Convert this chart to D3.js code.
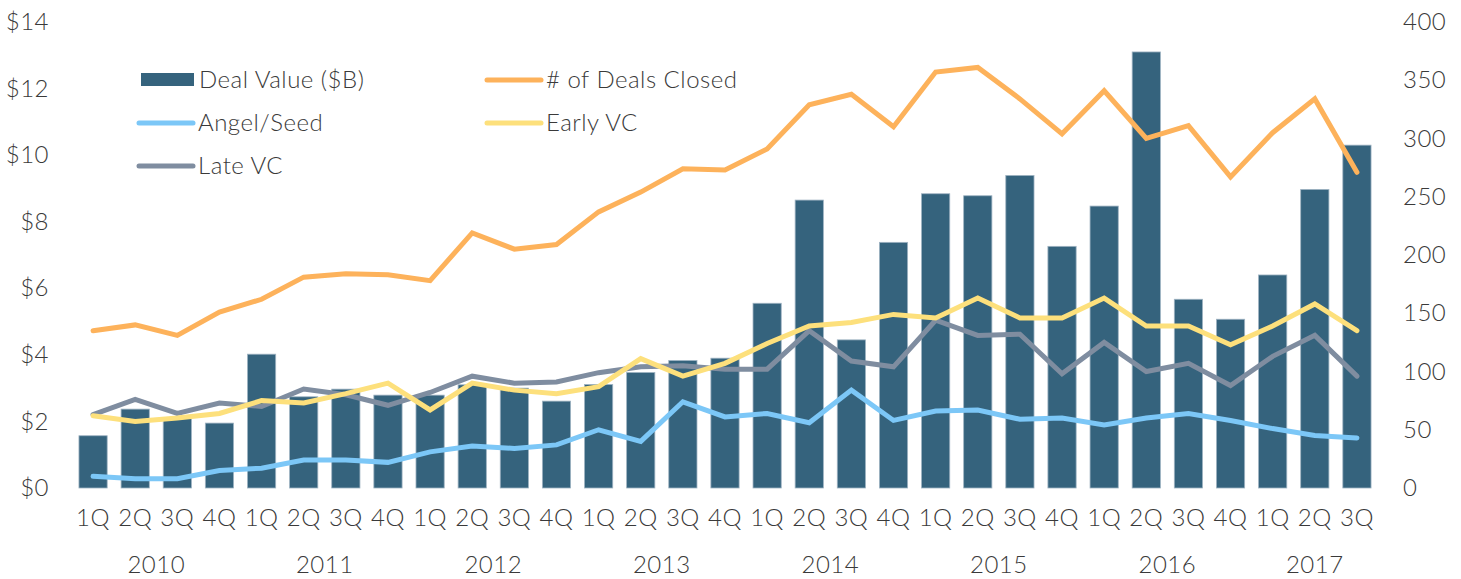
<!DOCTYPE html>
<html><head><meta charset="utf-8">
<script src="https://cdn.jsdelivr.net/npm/d3@7"></script>
<style>
body{margin:0;background:#fff;}
text{font-family:Lato,"Open Sans",sans-serif;font-weight:300;fill:#3a3a3a;letter-spacing:0.5px;}
</style></head><body>
<svg id="c" width="1461" height="579"></svg>
<script>
const quarters = ["1Q","2Q","3Q","4Q","1Q","2Q","3Q","4Q","1Q","2Q","3Q","4Q","1Q","2Q","3Q","4Q","1Q","2Q","3Q","4Q","1Q","2Q","3Q","4Q","1Q","2Q","3Q","4Q","1Q","2Q","3Q"];
const years = ["2010","2010","2010","2010","2011","2011","2011","2011","2012","2012","2012","2012","2013","2013","2013","2013","2014","2014","2014","2014","2015","2015","2015","2015","2016","2016","2016","2016","2017","2017","2017"];
const dealValue = [1.57,2.37,2.1,1.95,4.02,2.74,2.97,2.79,2.79,3.1,3.0,2.61,3.11,3.47,3.83,3.9,5.55,8.65,4.45,7.38,8.84,8.78,9.39,7.26,8.47,13.1,5.67,5.07,6.4,8.97,10.3];
const dealsClosed = [135,140,131,151,162,181,184,183,178,219,205,209,237,254,274,273,291,329,338,310,357,361,334,304,341,300,311,267,305,334,271];
const angelSeed = [10,8,8,15,17,24,24,22,31,36,34,37,50,40,74,61,64,56,84,58,66,67,59,60,54,60,64,58,51,45,43];
const earlyVC = [62,57,60,64,75,73,81,90,67,90,84,81,87,111,96,107,124,139,142,149,146,163,146,146,163,139,139,123,139,158,135];
const lateVC = [63,76,64,73,70,85,80,71,82,96,90,91,99,104,105,102,102,135,109,104,144,131,132,98,125,100,107,88,113,131,96];
const leftTicks = [0,2,4,6,8,10,12,14];
const rightTicks = [0,50,100,150,200,250,300,350,400];

const svg = d3.select("#c");
const L=72, R=1378, T=22, B=488;
const FS = "24px";
const idx = d3.range(quarters.length);
const x = d3.scaleBand().domain(idx).range([L,R]).paddingInner(0.33).paddingOuter(0.165);
const yL = d3.scaleLinear().domain([0,14]).range([B,T]);
const yR = d3.scaleLinear().domain([0,400]).range([B,T]);
const cx = i => x(i)+x.bandwidth()/2;

// bars
svg.append("g").selectAll("rect").data(dealValue).join("rect")
  .attr("x",(d,i)=>x(i)).attr("y",d=>yL(d)).attr("width",x.bandwidth()).attr("height",d=>B-yL(d))
  .attr("fill","#35637d").attr("stroke","#9fb3c2").attr("stroke-width",0.8);

const series = [
  {name:"Late VC", data:lateVC, color:"#7f8da0"},
  {name:"Early VC", data:earlyVC, color:"#fde07c"},
  {name:"Angel/Seed", data:angelSeed, color:"#7cc7f7"},
  {name:"# of Deals Closed", data:dealsClosed, color:"#fdb25b"}
];
const line = d3.line().x((d,i)=>cx(i)).y(d=>yR(d));
series.forEach(s=>{
  svg.append("path").datum(s.data).attr("d",line).attr("fill","none")
    .attr("stroke",s.color).attr("stroke-width",5).attr("stroke-linejoin","miter").attr("stroke-linecap","round");
});

// left axis
const gl = svg.append("g").attr("transform",`translate(${L},0)`)
  .call(d3.axisLeft(yL).tickValues(leftTicks).tickFormat(d=>"$"+d).tickSize(0).tickPadding(23));
gl.select(".domain").remove();
gl.selectAll("text").style("font-size",FS).attr("fill","#3a3a3a");

// right axis
const gr = svg.append("g").attr("transform",`translate(${R},0)`)
  .call(d3.axisRight(yR).tickValues(rightTicks).tickSize(0).tickPadding(25));
gr.select(".domain").remove();
gr.selectAll("text").style("font-size",FS).attr("fill","#3a3a3a");

// x axis quarters
const gx = svg.append("g").attr("transform",`translate(0,${B})`)
  .call(d3.axisBottom(x).tickFormat(i=>quarters[i]).tickSize(0).tickPadding(21));
gx.select(".domain").remove();
gx.selectAll("text").style("font-size",FS).attr("fill","#3a3a3a");

// year labels
const yearGroups = d3.groups(idx, i=>years[i]);
svg.append("g").selectAll("text").data(yearGroups).join("text")
  .attr("x",d=>(cx(d[1][0])+cx(d[1][d[1].length-1]))/2).attr("y",573)
  .attr("text-anchor","middle").style("font-size",FS).text(d=>d[0]);

// legend
const leg = svg.append("g");
leg.append("rect").attr("x",141).attr("y",73).attr("width",53).attr("height",13).attr("fill","#35637d");
leg.append("text").attr("x",199).attr("y",88).style("font-size",FS).text("Deal Value ($B)");
const legLines = [
  {t:"Angel/Seed", c:"#7cc7f7", x:139, y:123},
  {t:"Late VC", c:"#7f8da0", x:139, y:166},
  {t:"# of Deals Closed", c:"#fdb25b", x:487, y:80},
  {t:"Early VC", c:"#fde07c", x:487, y:123}
];
legLines.forEach(l=>{
  leg.append("line").attr("x1",l.x).attr("x2",l.x+54).attr("y1",l.y).attr("y2",l.y)
    .attr("stroke",l.c).attr("stroke-width",5).attr("stroke-linecap","round");
  leg.append("text").attr("x",l.x+59).attr("y",l.y+8).style("font-size",FS).text(l.t);
});
</script></body></html>
